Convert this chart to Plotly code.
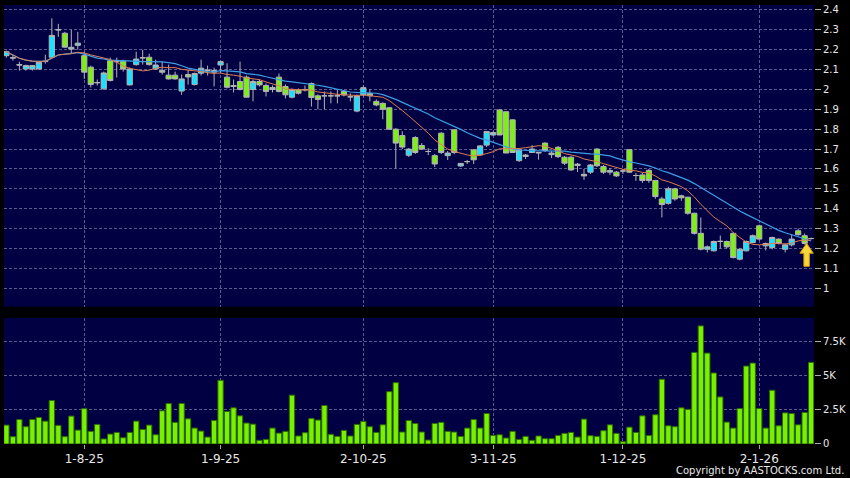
import plotly.graph_objects as go
import pandas as pd

# ---------------- data ----------------
tick_idx = [12, 33, 55, 75, 95, 116]
tick_labels = ["1-8-25", "1-9-25", "2-10-25", "3-11-25", "1-12-25", "2-1-26"]

opens = [2.17, 2.16, 2.125, 2.103, 2.103, 2.103, 2.14, 2.162, 2.30, 2.283, 2.203, 2.222, 2.17, 2.112, 2.033,
         2.003, 2.145, 2.14, 2.142, 2.023, 2.125, 2.158, 2.162, 2.103, 2.095, 2.072, 2.072, 1.992, 2.075, 2.025,
         2.082, 2.095, 2.087, 2.123,
         2.062, 2.015, 2.04, 2.062, 2.0, 2.04, 2.02, 2.0, 2.062, 2.015, 1.961, 1.998, 2.0, 2.03, 1.968, 1.968,
         1.968, 1.968, 1.99, 1.963, 1.891, 1.972, 1.98, 1.94, 1.93, 1.908, 1.80, 1.768, 1.669, 1.758, 1.718,
         1.688, 1.667, 1.78, 1.667, 1.797, 1.615, 1.637, 1.696, 1.671, 1.72, 1.771, 1.897, 1.888, 1.847, 1.642,
         1.663, 1.683, 1.68, 1.73, 1.672, 1.709, 1.659, 1.659, 1.617, 1.573, 1.584, 1.70, 1.612, 1.584, 1.584,
         1.59, 1.697, 1.567, 1.57, 1.593, 1.542, 1.449, 1.427, 1.50, 1.465, 1.458, 1.377, 1.276, 1.196, 1.188,
         1.235, 1.235, 1.276, 1.146, 1.188, 1.23, 1.314, 1.213, 1.205, 1.247, 1.196, 1.218, 1.289, 1.264, 1.25]

highs = [2.195, 2.175, 2.14, 2.125, 2.12, 2.14, 2.175, 2.358, 2.33, 2.29, 2.30, 2.29, 2.19, 2.12, 2.05,
         2.09, 2.16, 2.16, 2.15, 2.11, 2.19, 2.2, 2.18, 2.15, 2.14, 2.125, 2.09, 2.075, 2.1, 2.085,
         2.15, 2.12, 2.11, 2.145,
         2.132, 2.05, 2.14, 2.07, 2.05, 2.05, 2.03, 2.02, 2.08, 2.025, 2.005, 2.005, 2.02, 2.035, 1.975, 1.99,
         1.99, 2.0, 1.995, 1.98, 1.975, 2.02, 2.0, 1.95, 1.935, 1.91, 1.805, 1.79, 1.705, 1.765, 1.73,
         1.705, 1.675, 1.785, 1.69, 1.80, 1.63, 1.645, 1.70, 1.72, 1.79, 1.79, 1.90, 1.89, 1.85, 1.70,
         1.675, 1.72, 1.685, 1.735, 1.69, 1.715, 1.665, 1.665, 1.63, 1.60, 1.625, 1.705, 1.62, 1.605, 1.59,
         1.60, 1.70, 1.58, 1.58, 1.60, 1.545, 1.46, 1.51, 1.505, 1.47, 1.46, 1.38, 1.356, 1.215, 1.24,
         1.265, 1.24, 1.28, 1.20, 1.24, 1.27, 1.32, 1.23, 1.26, 1.25, 1.225, 1.27, 1.30, 1.275, 1.255]

lows = [2.16, 2.145, 2.095, 2.095, 2.095, 2.10, 2.13, 2.16, 2.265, 2.21, 2.18, 2.20, 2.053, 2.01, 2.02,
        2.0, 2.04, 2.06, 2.09, 2.02, 2.12, 2.125, 2.12, 2.10, 2.075, 2.05, 2.05, 1.973, 2.025, 2.02,
        2.07, 2.07, 2.015, 2.08,
        2.005, 1.985, 1.995, 1.96, 1.94, 2.015, 1.965, 1.985, 1.985, 1.955, 1.955, 1.975, 1.99, 1.914, 1.90, 1.90,
        1.93, 1.93, 1.965, 1.94, 1.885, 1.965, 1.94, 1.915, 1.85, 1.80, 1.603, 1.70, 1.66, 1.675, 1.695,
        1.67, 1.61, 1.675, 1.645, 1.675, 1.61, 1.625, 1.625, 1.665, 1.71, 1.765, 1.77, 1.68, 1.683, 1.635,
        1.65, 1.68, 1.647, 1.685, 1.655, 1.655, 1.62, 1.59, 1.585, 1.545, 1.575, 1.61, 1.575, 1.57, 1.56,
        1.575, 1.58, 1.54, 1.53, 1.53, 1.45, 1.356, 1.42, 1.44, 1.44, 1.37, 1.27, 1.19, 1.18, 1.185,
        1.20, 1.20, 1.15, 1.14, 1.185, 1.225, 1.24, 1.19, 1.195, 1.22, 1.18, 1.21, 1.265, 1.22, 1.245]

closes = [2.19, 2.158, 2.123, 2.12, 2.12, 2.137, 2.142, 2.272, 2.30, 2.213, 2.212, 2.233, 2.087, 2.025, 2.035,
          2.083, 2.045, 2.14, 2.103, 2.103, 2.153, 2.16, 2.125, 2.123, 2.087, 2.053, 2.053, 2.053, 2.063, 2.08,
          2.107, 2.097, 2.095, 2.14,
          2.011, 2.02, 2.0, 1.961, 2.04, 2.023, 1.99, 2.01, 1.99, 1.973, 2.0, 1.981, 1.998, 1.96, 1.95, 1.968,
          1.968, 1.968, 1.972, 1.963, 1.968, 2.009, 1.968, 1.922, 1.90, 1.80, 1.73, 1.71, 1.70, 1.683, 1.70,
          1.688, 1.625, 1.683, 1.68, 1.683, 1.628, 1.637, 1.646, 1.716, 1.788, 1.783, 1.771, 1.68, 1.683, 1.696,
          1.67, 1.70, 1.683, 1.693, 1.68, 1.662, 1.629, 1.595, 1.624, 1.565, 1.62, 1.616, 1.584, 1.592, 1.565,
          1.59, 1.584, 1.567, 1.542, 1.542, 1.461, 1.421, 1.50, 1.449, 1.455, 1.377, 1.276, 1.196, 1.208, 1.235,
          1.236, 1.208, 1.154, 1.196, 1.235, 1.264, 1.247, 1.225, 1.255, 1.225, 1.218, 1.247, 1.269, 1.225, 1.25]

volumes_k = [1.39, 0.54, 1.8, 1.27, 1.8, 1.95, 1.68, 3.2, 1.37, 0.54, 2.05, 1.02, 2.6, 0.93, 1.44, 0.37,
             0.73, 0.85, 0.46, 0.85, 1.68, 1.07, 1.39, 0.68, 2.44, 2.98, 1.59, 2.98, 1.85, 1.17, 0.95, 0.51,
             1.73, 4.68, 2.39, 2.66, 2.07, 1.54, 1.46, 0.27, 0.34, 1.17, 0.8, 0.93, 3.59, 0.59,
             0.83, 1.88, 1.76, 2.83, 0.71, 0.56, 1.0, 0.59, 1.44, 1.66, 1.27, 0.85, 1.41, 3.85, 4.51, 0.88,
             1.73, 1.51, 0.88, 0.29, 1.51, 1.59, 0.93, 0.88, 0.56, 1.17, 1.8, 1.17, 2.24, 0.63, 0.68, 0.44,
             0.93, 0.34, 0.56, 0.27, 0.59, 0.39, 0.39, 0.63, 0.78, 0.85, 0.51,
             1.83, 0.61, 0.56, 0.98, 1.41, 0.78, 0.17, 1.24, 0.85, 2.07, 0.63, 2.15, 4.76, 1.34, 1.27, 2.66,
             2.54, 6.73, 8.68, 6.68, 5.22, 3.46, 1.61, 1.17, 2.61, 5.73, 5.95, 2.61, 1.17, 3.95, 1.34, 2.29,
             2.24, 1.41, 2.32, 6.0]

price_ticks = [1.0, 1.1, 1.2, 1.3, 1.4, 1.5, 1.6, 1.7, 1.8, 1.9, 2.0, 2.1, 2.2, 2.3, 2.4]
price_tick_text = ["1", "1.1", "1.2", "1.3", "1.4", "1.5", "1.6", "1.7", "1.8", "1.9", "2", "2.1", "2.2", "2.3", "2.4"]
vol_ticks = [0, 2.5, 5, 7.5]
vol_tick_text = ["0", "2.5K", "5K", "7.5K"]

# ---------------- derived ----------------
x_idx = list(range(len(closes)))
close_s = pd.Series(closes)
ma10 = close_s.rolling(10, min_periods=1).mean()
ma20 = close_s.rolling(20, min_periods=1).mean()

BG = "#000042"
GRID = "#5a5a8e"
TXT = "#e8e8e8"
FONT = "DejaVu Sans"

fig = go.Figure()
fig.add_trace(go.Candlestick(
    x=x_idx, open=opens, high=highs, low=lows, close=closes,
    xaxis="x", yaxis="y", whiskerwidth=0,
    increasing=dict(line=dict(color="#b4b4b4", width=1), fillcolor="#19e1ff"),
    decreasing=dict(line=dict(color="#b4b4b4", width=1), fillcolor="#7cf010"),
    hoverinfo="skip", showlegend=False))
fig.add_trace(go.Scatter(x=x_idx, y=ma20, mode="lines", line=dict(color="#3c9ee6", width=1.2),
                         xaxis="x", yaxis="y", showlegend=False, hoverinfo="skip"))
fig.add_trace(go.Scatter(x=x_idx, y=ma10, mode="lines", line=dict(color="#e07c50", width=1.0),
                         xaxis="x", yaxis="y", showlegend=False, hoverinfo="skip"))
fig.add_trace(go.Bar(x=x_idx, y=volumes_k, width=0.82, xaxis="x2", yaxis="y2",
                     marker=dict(color="#78f000", line=dict(color="#2c6a00", width=1)),
                     showlegend=False, hoverinfo="skip"))

# arrow marker under the last candles
last = x_idx[-1]
ax = last - 0.7
tip = min(lows[-3:]) + 0.006
hb = tip - 0.05
sb = tip - 0.116
hw, sw = 1.03, 0.42
path = (f"M {ax} {tip} L {ax + hw} {hb} L {ax + sw} {hb} L {ax + sw} {sb} "
        f"L {ax - sw} {sb} L {ax - sw} {hb} L {ax - hw} {hb} Z")
fig.add_shape(type="path", path=path, xref="x", yref="y",
              fillcolor="#f7d63c", line=dict(color="#d89a00", width=1))

xr = [-0.37, 124.44]
axis_common = dict(showline=False, zeroline=False, gridcolor=GRID, griddash="3px,2px", gridwidth=1)

fig.update_layout(
    width=850, height=478,
    margin=dict(l=4, r=36, t=5, b=34),
    paper_bgcolor="#000000", plot_bgcolor=BG,
    boxgap=0.2, boxgroupgap=0,
    font=dict(family=FONT, color=TXT),
    xaxis=dict(domain=[0, 1], range=xr, anchor="y", tickvals=tick_idx, showticklabels=False,
               showgrid=True, ticks="", rangeslider=dict(visible=False), **axis_common),
    xaxis2=dict(domain=[0, 1], range=xr, anchor="y2", matches="x", tickvals=tick_idx, ticktext=tick_labels,
                showgrid=True, ticks="outside", ticklen=4, tickcolor="#aaaaaa",
                tickfont=dict(family=FONT, size=12, color=TXT), **axis_common),
    yaxis=dict(domain=[0.3128, 1], range=[0.907, 2.425], side="right", anchor="x",
               tickvals=price_ticks, ticktext=price_tick_text, showgrid=True,
               ticks="outside", ticklen=6, tickcolor="#aaaaaa",
               tickfont=dict(family=FONT, size=10, color=TXT), **axis_common),
    yaxis2=dict(domain=[0, 0.287], range=[0, 9.26], side="right", anchor="x2",
                tickvals=vol_ticks, ticktext=vol_tick_text, showgrid=True,
                ticks="outside", ticklen=6, tickcolor="#aaaaaa",
                tickfont=dict(family=FONT, size=10, color=TXT), **axis_common),
    annotations=[dict(text="Copyright by AASTOCKS.com Ltd.", xref="paper", yref="paper",
                      x=1.0395, y=-0.0615, xanchor="right", yanchor="middle", showarrow=False,
                      font=dict(family=FONT, size=10, color=TXT))],
)

fig.write_html("out.html", config={"displayModeBar": False},
               post_script="document.body.style.margin='0px';document.body.style.background='#000';")
